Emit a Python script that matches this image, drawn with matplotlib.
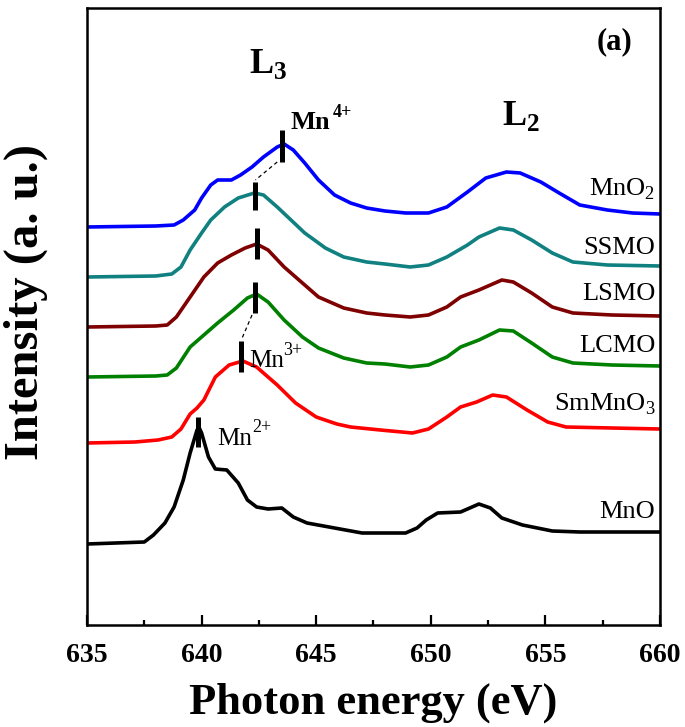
import numpy as np
import matplotlib
matplotlib.use('Agg')
import matplotlib.pyplot as plt
from matplotlib.ticker import MultipleLocator

plt.rcParams['font.family'] = ['Liberation Serif', 'DejaVu Serif']
plt.rcParams['mathtext.fontset'] = 'custom'
plt.rcParams['mathtext.rm'] = 'Liberation Serif'
plt.rcParams['mathtext.bf'] = 'Liberation Serif:bold'

# --- dados (energia em eV, intensidade em u.a. com offset) ---
e_mno2 = [635.0, 638.0, 638.8, 639.2, 639.7, 640.0, 640.4, 640.7, 641.3, 641.7, 642.2, 642.7,
          643.3, 643.6, 644.0, 644.5, 645.1, 645.8, 646.5, 647.2, 648.0, 648.9, 649.9, 650.7,
          651.6, 652.4, 653.3, 653.9, 654.8, 655.6, 656.5, 657.7, 658.8, 660.0]
i_mno2 = [395, 396, 397, 402, 412, 424, 437, 442, 442, 447, 455, 465,
          475, 478, 472, 459, 442, 427, 419, 414, 411, 409, 409, 415,
          430, 444, 450, 449, 440, 429, 417, 412, 409, 408]

e_ssmo = [635.0, 638.0, 638.7, 639.1, 639.5, 640.0, 640.4, 641.0, 641.6, 642.3, 642.7, 643.3,
          643.9, 644.5, 645.4, 646.2, 647.2, 648.0, 649.1, 649.9, 650.7, 651.6, 652.1, 653.0,
          653.6, 654.4, 655.3, 656.2, 657.7, 660.0]
i_ssmo = [345, 346, 348, 355, 372, 389, 402, 415, 424, 429, 427, 415,
          402, 389, 374, 365, 360, 358, 355, 357, 365, 377, 385, 394,
          392, 382, 369, 360, 357, 356]

e_lsmo = [635.0, 638.0, 638.5, 638.9, 639.5, 640.1, 640.7, 641.3, 641.9, 642.4, 642.9, 643.6,
          644.4, 645.1, 646.2, 647.2, 648.0, 649.1, 649.9, 650.7, 651.3, 652.1, 653.1, 653.6,
          654.4, 655.3, 656.2, 657.9, 660.0]
i_lsmo = [295, 296, 297, 305, 325, 345, 359, 367, 374, 378, 372, 355,
          339, 325, 314, 309, 307, 305, 307, 315, 325, 332, 342, 340,
          329, 315, 309, 307, 306]

e_lcmo = [635.0, 638.0, 638.5, 638.9, 639.5, 640.0, 640.7, 641.4, 642.0, 642.4, 642.9, 643.6,
          644.4, 645.1, 646.2, 647.2, 648.0, 649.1, 649.9, 650.7, 651.3, 652.1, 653.0, 653.6,
          654.4, 655.3, 656.2, 657.9, 660.0]
i_lcmo = [245, 246, 247, 254, 275, 285, 299, 312, 324, 328, 320, 302,
          285, 274, 264, 259, 258, 255, 257, 265, 275, 282, 292, 291,
          279, 265, 259, 257, 256]

e_smmno3 = [635.0, 637.1, 638.1, 638.7, 639.1, 639.5, 639.8, 640.1, 640.6, 641.2, 641.8, 642.4,
            643.3, 644.1, 645.0, 645.9, 646.5, 647.8, 649.2, 649.9, 650.7, 651.3, 652.0, 652.7,
            653.3, 654.2, 655.1, 655.9, 657.9, 660.0]
i_smmno3 = [179, 180, 182, 185, 193, 208, 214, 222, 245, 257, 261, 255,
            237, 219, 205, 198, 195, 192, 189, 193, 205, 215, 220, 227,
            225, 212, 200, 195, 194, 193]

e_mno = [635.0, 637.5, 637.9, 638.4, 638.8, 639.2, 639.5, 639.8, 639.9, 640.0, 640.3, 640.6,
         641.1, 641.6, 642.0, 642.4, 642.9, 643.5, 644.0, 644.6, 645.8, 647.0, 648.0, 648.9,
         649.4, 649.8, 650.3, 651.3, 651.7, 652.1, 652.6, 653.1, 654.0, 655.3, 656.5, 660.0]
i_mno = [78, 80, 87, 99, 115, 142, 169, 192, 194, 189, 165, 153,
         152, 139, 122, 115, 113, 114, 105, 99, 94, 89, 89, 89,
         94, 102, 109, 110, 114, 118, 114, 104, 97, 91, 90, 90]

series = [
    (e_mno2, i_mno2, 'blue', r'MnO$_\mathregular{2}$', 426),
    (e_ssmo, i_ssmo, '#108080', 'SSMO', 368),
    (e_lsmo, i_lsmo, '#7f0000', 'LSMO', 322),
    (e_lcmo, i_lcmo, 'green', 'LCMO', 270),
    (e_smmno3, i_smmno3, 'red', r'SmMnO$_\mathregular{3}$', 212),
    (e_mno, i_mno, 'black', 'MnO', 104),
]

# marcadores de pico (energia, inferior, superior)
pico_e = [643.5, 642.35, 642.4, 642.35, 641.7, 639.85]
pico_lo = [460, 412, 363, 309, 250, 175]
pico_hi = [492, 440, 394, 340, 281, 205]

fig = plt.figure(figsize=(6.85, 7.27), dpi=100)
ax = fig.add_axes([0.127, 0.1403, 0.8365, 0.8487])

for e, i, cor, nome, ytxt in series:
    ax.plot(e, i, color=cor, lw=2.6, solid_joinstyle='round', solid_capstyle='butt')
    ax.text(659.8, ytxt, nome, ha='right', va='baseline', fontsize=19)

ax.vlines(pico_e, pico_lo, pico_hi, colors='black', lw=3.6)
# linhas tracejadas ligando os picos
ax.plot([643.3, 642.35], [460, 442], color='black', lw=0.9, ls=(0, (3, 2.5)))
ax.plot([642.2, 641.75], [307, 283], color='black', lw=0.9, ls=(0, (3, 2.5)))

# estados de valência (Mn + sobrescrito)
ax.text(643.87, 493, 'Mn', fontsize=19, fontweight='bold', va='baseline')
ax.text(645.72, 505, '4+', fontsize=13, fontweight='bold', va='baseline')
ax.text(642.08, 255, 'Mn', fontsize=18, va='baseline')
ax.text(643.55, 267, '3+', fontsize=13, va='baseline')
ax.text(640.68, 177, 'Mn', fontsize=18, va='baseline')
ax.text(642.2, 190, '2+', fontsize=13, va='baseline')

ax.text(642.08, 549, r'L$_\mathregular{3}$', fontsize=26, fontweight='bold', va='baseline')
ax.text(653.1, 497, r'L$_\mathregular{2}$', fontsize=26, fontweight='bold', va='baseline')
ax.text(658.0, 580, '(a)', fontsize=22, fontweight='bold', ha='center', va='center')

ax.set_xlim(635, 660)
ax.set_ylim(-3, 614)
ax.xaxis.set_major_locator(MultipleLocator(5))
ax.xaxis.set_minor_locator(MultipleLocator(2.5))
ax.tick_params(axis='x', which='major', direction='in', length=7.5, width=1.6,
               labelsize=20, pad=13)
ax.tick_params(axis='x', which='minor', direction='in', length=3.8, width=1.6)
ax.set_yticks([])
for lab in ax.get_xticklabels():
    lab.set_fontweight('bold')
for s in ax.spines.values():
    s.set_linewidth(1.8)

ax.set_xlabel('Photon energy (eV)', fontsize=32, fontweight='bold')
ax.xaxis.set_label_coords(0.5, -0.094)
ax.set_ylabel('Intensity (a. u.)', fontsize=35, fontweight='bold')
ax.yaxis.set_label_coords(-0.068, 0.523)

fig.savefig('out.png', dpi=100)
